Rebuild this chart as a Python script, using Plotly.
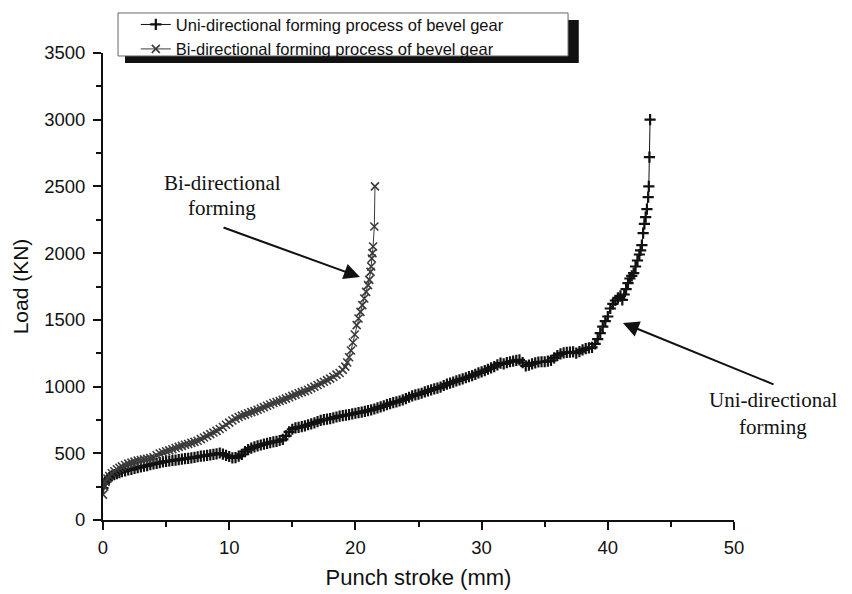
import plotly.graph_objects as go

# Uni-directional forming (punch stroke mm, load kN)
uni_x = [0.0, 0.1, 0.2, 0.35, 0.5, 0.7, 0.9, 1.1, 1.3, 1.5, 1.75, 2.0, 2.25, 2.5, 2.75, 3.0, 3.25,
         3.5, 3.75, 4.0, 4.25, 4.5, 4.75, 5.0, 5.25, 5.5, 5.75, 6.0, 6.25, 6.5, 6.75, 7.0, 7.25,
         7.5, 7.75, 8.0, 8.25, 8.5, 8.75, 9.0, 9.25, 9.5, 9.75, 10.0, 10.25, 10.5, 10.75, 11.0,
         11.25, 11.5, 11.75, 12.0, 12.25, 12.5, 12.75, 13.0, 13.25, 13.5, 13.75, 14.0, 14.25,
         14.5, 14.75, 15.0, 15.25, 15.5, 15.75, 16.0, 16.25, 16.5, 16.75, 17.0, 17.25, 17.5,
         17.75, 18.0, 18.25, 18.5, 18.75, 19.0, 19.25, 19.5, 19.75, 20.0, 20.25, 20.5, 20.75,
         21.0, 21.25, 21.5, 21.75, 22.0, 22.25, 22.5, 22.75, 23.0, 23.25, 23.5, 23.75, 24.0,
         24.25, 24.5, 24.75, 25.0, 25.25, 25.5, 25.75, 26.0, 26.25, 26.5, 26.75, 27.0, 27.25,
         27.5, 27.75, 28.0, 28.25, 28.5, 28.75, 29.0, 29.25, 29.5, 29.75, 30.0, 30.25, 30.5,
         30.75, 31.0, 31.25, 31.5, 31.75, 32.0, 32.25, 32.5, 32.75, 33.0, 33.25, 33.5, 33.75,
         34.0, 34.25, 34.5, 34.75, 35.0, 35.25, 35.5, 35.75, 36.0, 36.25, 36.5, 36.75, 37.0,
         37.25, 37.5, 37.75, 38.0, 38.25, 38.5, 38.75, 39.0, 39.2, 39.4, 39.6, 39.8, 40.0, 40.2,
         40.4, 40.6, 40.8, 41.0, 41.15, 41.3, 41.45, 41.6, 41.75, 41.9, 42.05, 42.2, 42.35, 42.5,
         42.6, 42.7, 42.8, 42.9, 43.0, 43.1, 43.2, 43.25, 43.3, 43.35]
uni_y = [240, 270, 290, 305, 318, 330, 340, 348, 355, 362, 368, 375, 380, 386, 392, 398, 404,
         408, 414, 420, 424, 430, 436, 440, 442, 446, 448, 452, 456, 460, 462, 466, 470,
         474, 478, 480, 484, 488, 492, 496, 502, 494, 485, 476, 466, 468, 478, 492,
         512, 528, 538, 548, 555, 562, 568, 575, 580, 585, 590, 596, 604,
         630, 660, 680, 690, 694, 700, 706, 714, 720, 728, 738, 746, 752,
         756, 760, 766, 772, 778, 782, 786, 790, 795, 800, 804, 808, 814,
         820, 826, 832, 840, 848, 856, 864, 872, 880, 886, 892, 900, 910,
         920, 930, 938, 944, 950, 960, 968, 975, 982, 988, 996, 1008, 1018,
         1026, 1034, 1042, 1050, 1058, 1066, 1074, 1082, 1092, 1102, 1110, 1120, 1130,
         1140, 1150, 1162, 1175, 1170, 1180, 1186, 1190, 1196, 1200, 1180, 1155, 1160,
         1170, 1178, 1184, 1186, 1186, 1190, 1196, 1215, 1232, 1245, 1252, 1256, 1258,
         1260, 1250, 1262, 1275, 1285, 1290, 1294, 1320, 1355, 1400, 1450, 1490, 1525, 1585,
         1620, 1645, 1665, 1680, 1650, 1690, 1730, 1775, 1810, 1830, 1850, 1900, 1945, 1990,
         2020, 2060, 2150, 2220, 2270, 2330, 2420, 2500, 2720, 3000]

# Bi-directional forming
bi_x = [0.0, 0.1, 0.2, 0.35, 0.5, 0.7, 0.9, 1.1, 1.3, 1.5, 1.75, 2.0, 2.25, 2.5, 2.75, 3.0, 3.25,
        3.5, 3.75, 4.0, 4.25, 4.5, 4.75, 5.0, 5.25, 5.5, 5.75, 6.0, 6.25, 6.5, 6.75, 7.0, 7.25,
        7.5, 7.75, 8.0, 8.25, 8.5, 8.75, 9.0, 9.25, 9.5, 9.75, 10.0, 10.25, 10.5, 10.75, 11.0,
        11.25, 11.5, 11.75, 12.0, 12.25, 12.5, 12.75, 13.0, 13.25, 13.5, 13.75, 14.0, 14.25,
        14.5, 14.75, 15.0, 15.25, 15.5, 15.75, 16.0, 16.25, 16.5, 16.75, 17.0, 17.25, 17.5,
        17.75, 18.0, 18.25, 18.5, 18.75, 19.0, 19.2, 19.35, 19.5, 19.65, 19.8, 19.95, 20.1,
        20.25, 20.4, 20.55, 20.7, 20.85, 21.0, 21.1, 21.2, 21.25, 21.3, 21.35, 21.4, 21.5, 21.55]
bi_y = [190, 250, 285, 310, 330, 350, 365, 380, 392, 402, 412, 422, 430, 438, 446, 450, 454,
        458, 464, 470, 485, 498, 506, 515, 522, 530, 540, 548, 556, 564, 570, 578, 585,
        594, 606, 618, 630, 644, 656, 668, 682, 697, 714, 730, 746, 760, 772, 782,
        790, 800, 808, 816, 826, 836, 846, 856, 866, 877, 884, 892, 900,
        910, 920, 930, 940, 950, 958, 966, 976, 988, 1000, 1012, 1024, 1036,
        1048, 1060, 1074, 1090, 1102, 1125, 1150, 1180, 1220, 1270, 1330, 1390, 1460,
        1510, 1560, 1610, 1660, 1710, 1760, 1800, 1860, 1900, 1960, 2000, 2050, 2200, 2500]

x_ticks = [0, 10, 20, 30, 40, 50]
y_ticks = [0, 500, 1000, 1500, 2000, 2500, 3000, 3500]

fig = go.Figure()
fig.add_trace(go.Scatter(
    x=uni_x, y=uni_y, mode="lines+markers",
    name="Uni-directional forming process of bevel gear",
    line=dict(color="#111111", width=1),
    marker=dict(symbol="cross-thin", size=8, line=dict(color="#111111", width=2.2)),
))
fig.add_trace(go.Scatter(
    x=bi_x, y=bi_y, mode="lines+markers",
    name="Bi-directional forming process of bevel gear",
    line=dict(color="#3a3a3a", width=1),
    marker=dict(symbol="x-thin", size=8, line=dict(color="#3a3a3a", width=1.6)),
))

sans = "Liberation Sans, Arial, sans-serif"
serif = "Liberation Serif, Times New Roman, serif"
ink = "#111111"

# page body has an 8px margin, so the figure is drawn at (8, 8)
fig.update_layout(
    width=844, height=586,
    margin=dict(l=95, r=118, t=45, b=74, autoexpand=False),
    paper_bgcolor="white", plot_bgcolor="white",
    font=dict(family=sans, color=ink),
    showlegend=True,
    legend=dict(
        x=0.052, y=1.098, xanchor="left", yanchor="top",
        bgcolor="rgba(0,0,0,0)", borderwidth=0,
        font=dict(family=sans, size=16.5, color=ink),
        tracegroupgap=0, itemwidth=30,
    ),
    xaxis=dict(
        range=[0, 50], tickvals=x_ticks, showgrid=False, zeroline=False, automargin=False,
        showline=True, linecolor=ink, linewidth=2,
        ticks="outside", ticklen=8, tickwidth=2, tickcolor=ink, ticklabelstandoff=2,
        tickfont=dict(size=18.5, family=sans, color=ink),
        minor=dict(ticks="outside", ticklen=5, tickwidth=2, tickcolor=ink, dtick=5),
        title=dict(text="Punch stroke (mm)", font=dict(size=22, family=sans, color=ink), standoff=12),
    ),
    yaxis=dict(
        range=[0, 3500], tickvals=y_ticks, showgrid=False, zeroline=False, automargin=False,
        showline=True, linecolor=ink, linewidth=2,
        ticks="outside", ticklen=8, tickwidth=2, tickcolor=ink, ticklabelstandoff=4,
        tickfont=dict(size=18.5, family=sans, color=ink),
        minor=dict(ticks="outside", ticklen=5, tickwidth=2, tickcolor=ink, dtick=250),
        title=dict(text="Load (KN)", font=dict(size=21, family=sans, color=ink), standoff=10),
    ),
    shapes=[
        dict(type="rect", xref="paper", yref="paper", x0=0.0349, x1=0.754, y0=0.9786, y1=1.0707,
             fillcolor=ink, line=dict(width=0), layer="above"),
        dict(type="rect", xref="paper", yref="paper", x0=0.0238, x1=0.737, y0=0.9936, y1=1.0857,
             fillcolor="white", line=dict(color="#666666", width=1), layer="above"),
    ],
    annotations=[
        dict(text="Bi-directional", x=(222 - 103) / 631, y=(520 - 183) / 467, xref="paper", yref="paper",
             xanchor="center", yanchor="middle",
             showarrow=False, font=dict(family=serif, size=21, color=ink)),
        dict(text="forming", x=(222 - 103) / 631, y=(520 - 208) / 467, xref="paper", yref="paper",
             xanchor="center", yanchor="middle",
             showarrow=False, font=dict(family=serif, size=21, color=ink)),
        dict(text="Uni-directional", x=(773 - 103) / 631, y=(520 - 400) / 467, xref="paper", yref="paper",
             xanchor="center", yanchor="middle",
             showarrow=False, font=dict(family=serif, size=21, color=ink)),
        dict(text="forming", x=(773 - 103) / 631, y=(520 - 427) / 467, xref="paper", yref="paper",
             xanchor="center", yanchor="middle",
             showarrow=False, font=dict(family=serif, size=21, color=ink)),
        dict(text="", x=20.36, y=1821, xref="x", yref="y", ax=9.43, ay=2196, axref="x", ayref="y",
             showarrow=True, arrowhead=2, arrowsize=1.6, arrowwidth=2, arrowcolor=ink, standoff=0),
        dict(text="", x=41.2, y=1477, xref="x", yref="y", ax=53.25, ay=1012, axref="x", ayref="y",
             showarrow=True, arrowhead=2, arrowsize=1.6, arrowwidth=2, arrowcolor=ink, standoff=0),
    ],
)

fig.write_html("out.html")
